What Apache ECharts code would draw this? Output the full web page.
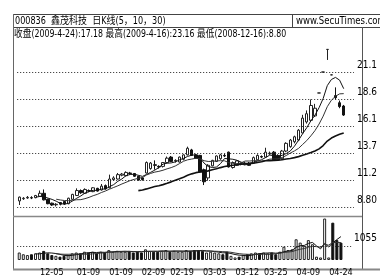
<!DOCTYPE html>
<html><head><meta charset="utf-8">
<script src="https://cdn.jsdelivr.net/npm/echarts@6/dist/echarts.min.js"></script>
<style>html,body{margin:0;padding:0;background:#fff}#c{width:380px;height:277px}</style>
</head><body><div id="c"></div>
<script>
// ---------- data ----------
const titleText = '000836  鑫茂科技  日K线(5，10，30)';
const siteText = 'www.SecuTimes.com';
const statsText = '收盘(2009-4-24):17.18 最高(2009-4-16):23.16 最低(2008-12-16):8.80';

const tickIndex = [8, 17, 25, 33, 40, 48, 56, 63, 71, 79];
const tickLabels = ['12-05', '01-09', '01-09', '02-09', '02-19', '03-03', '03-12', '03-25', '04-09', '04-24'];

const priceTicks = [8.80, 11.26, 13.72, 16.18, 18.64, 21.10];
const volumeTicks = [1055];

const opens = [9.35,9.55,9.62,9.65,9.65,9.78,10.05,9.50,9.15,9.00,9.20,9.30,9.10,9.50,9.85,10.30,10.05,10.30,10.20,10.50,
  10.35,10.75,10.55,11.30,11.35,11.70,11.65,11.90,11.85,11.60,11.45,11.90,12.30,12.65,12.50,12.50,12.85,13.35,13.00,12.90,
  13.15,13.55,14.00,13.55,13.50,12.20,11.45,12.55,12.95,13.20,13.50,13.80,12.40,12.60,12.75,12.65,12.80,12.80,13.10,13.40,
  13.35,13.65,13.80,13.50,13.20,13.90,14.30,14.75,14.90,15.55,16.55,16.70,17.10,19.19,21.10,23.16,20.84,18.95,18.30,18.00];
const closes = [9.70,9.60,9.68,9.62,9.85,10.05,9.45,9.10,8.98,9.05,9.05,9.08,9.60,9.95,10.30,10.10,10.40,10.25,10.55,10.25,
  10.70,10.45,11.35,11.45,11.75,11.80,11.95,11.85,11.60,11.25,11.30,12.85,12.80,12.60,12.45,12.85,13.25,12.95,13.05,13.35,
  13.55,14.15,13.50,13.25,12.00,11.10,12.60,13.05,13.45,13.55,13.45,12.45,12.85,13.00,12.70,12.80,12.60,13.30,13.50,13.35,
  13.80,13.70,13.05,13.10,13.90,14.60,14.90,15.20,15.80,16.90,17.30,18.05,17.80,19.19,21.10,23.16,20.84,18.76,17.95,17.18];
const lows = [8.98,9.45,9.55,9.52,9.60,9.72,9.40,9.05,8.90,8.85,8.95,9.00,9.05,9.45,9.80,10.00,10.00,10.15,10.15,10.20,
  10.30,10.40,10.50,11.20,11.30,11.60,11.60,11.75,11.55,11.20,11.20,11.85,12.20,12.20,12.30,12.40,12.80,12.90,12.85,12.85,
  13.05,13.50,13.45,13.20,11.95,10.80,11.20,12.50,12.90,13.10,13.35,12.40,12.30,12.55,12.60,12.60,12.55,12.75,13.05,13.25,
  13.30,13.55,13.00,13.00,13.10,13.80,14.20,14.60,14.80,15.50,16.40,16.60,17.00,19.19,21.10,22.20,20.84,18.60,17.80,17.10];
const highs = [9.75,9.70,9.80,9.78,9.90,10.30,10.40,9.55,9.20,9.15,9.25,9.35,9.65,10.00,10.50,10.40,10.50,10.40,10.60,10.55,
  10.90,10.85,11.75,11.60,11.90,11.90,12.05,12.00,11.90,11.65,11.50,12.95,12.90,13.05,12.60,12.90,13.40,13.45,13.15,13.40,
  13.60,14.30,14.10,13.65,13.55,12.30,12.70,13.10,13.50,13.65,13.65,13.85,12.95,13.05,12.85,12.90,12.90,13.40,13.60,13.50,
  14.20,13.85,13.90,13.60,14.00,14.70,15.00,15.30,15.90,17.20,17.60,18.60,18.20,19.19,21.10,23.16,20.84,19.70,18.50,18.10];

const ma5 = ['-','-','-','-',9.69,9.76,9.73,9.61,9.49,9.33,9.13,9.05,9.15,9.35,9.60,9.81,10.07,10.20,10.32,10.31,
  10.43,10.44,10.66,10.84,11.14,11.36,11.66,11.76,11.79,11.69,11.59,11.77,11.96,12.16,12.40,12.71,12.79,12.82,12.91,13.09,
  13.23,13.41,13.52,13.56,13.29,12.80,12.49,12.40,12.44,12.75,13.22,13.19,13.15,13.06,12.89,12.76,12.79,12.88,12.98,13.11,
  13.31,13.53,13.48,13.40,13.51,13.67,13.91,14.34,14.88,15.48,16.02,16.65,17.17,17.85,18.69,19.86,20.42,20.61,20.36,19.58];
const ma10 = ['-','-','-','-','-','-','-','-','-',9.51,9.44,9.39,9.38,9.42,9.46,9.47,9.56,9.68,9.83,9.95,
  10.12,10.26,10.43,10.58,10.73,10.90,11.05,11.21,11.32,11.42,11.48,11.72,11.86,11.98,12.05,12.15,12.28,12.39,12.54,12.75,
  12.97,13.10,13.17,13.24,13.19,13.02,12.95,12.96,13.00,13.02,13.01,12.84,12.78,12.75,12.82,12.99,12.99,13.02,13.02,13.00,
  13.04,13.16,13.18,13.19,13.31,13.49,13.72,13.91,14.14,14.50,14.85,15.28,15.76,16.36,17.08,17.94,18.53,18.89,19.11,19.13];
const ma30 = ['-','-','-','-','-','-','-','-','-','-','-','-','-','-','-','-','-','-','-','-',
  '-','-','-','-','-','-','-','-','-',10.29,10.35,10.45,10.56,10.66,10.74,10.84,10.96,11.09,11.23,11.37,
  11.52,11.69,11.82,11.93,11.99,12.02,12.09,12.19,12.28,12.39,12.49,12.55,12.60,12.65,12.69,12.72,12.74,12.79,12.85,12.92,
  13.01,13.03,13.04,13.06,13.11,13.17,13.22,13.30,13.39,13.51,13.63,13.76,13.90,14.10,14.40,14.81,15.08,15.27,15.42,15.54];

const volumes = [560,430,370,430,500,560,680,500,370,310,250,310,370,500,560,500,620,560,620,500,
  620,560,740,620,680,620,620,680,560,620,560,800,680,620,620,680,740,620,680,620,
  620,740,680,740,740,680,560,620,560,500,430,620,310,190,250,370,430,500,560,500,
  560,500,560,430,620,990,740,800,1550,1300,1055,1490,1180,250,190,3100,190,2790,1490,1300];
const volMa5 = ['-','-','-','-',458,458,508,534,522,484,422,348,322,348,398,448,510,548,572,560,
  584,572,608,608,644,644,656,644,632,620,608,644,644,656,656,680,668,656,668,668,
  656,656,668,680,704,716,680,668,632,584,534,546,484,410,360,348,310,348,422,472,
  510,524,536,510,534,620,668,716,940,1076,1089,1239,1315,1055,833,1238,978,1280,1528,1750];
const volMa10 = ['-','-','-','-','-','-','-','-','-',471,440,428,428,435,441,435,429,435,460,479,
  516,541,578,590,602,614,614,626,620,632,626,650,644,644,638,644,656,650,662,662,
  668,662,662,674,686,686,668,668,656,644,625,613,576,521,472,441,428,416,416,416,
  429,417,442,466,504,566,597,627,726,806,856,955,1017,999,956,1167,1112,1311,1305,1305];

// ---------- chart ----------
const NARROW = '"Liberation Sans Narrow","DejaVu Sans Condensed","Noto Sans CJK SC",sans-serif';
const categories = closes.map((_, i) => 'd' + i).concat(['', '']);
const candleData = opens.map((o, i) => [o, closes[i], lows[i], highs[i]]);
const hollow = { color: '#fff', borderColor: '#222', borderWidth: 1 };
const solid = { color: '#111', borderColor: '#111', borderWidth: 1 };
const volData = volumes.map((v, i) => ({ value: v, itemStyle: closes[i] >= opens[i] ? hollow : solid }));
const dotted = { type: [1, 2], color: '#222', width: 1 };

const chart = echarts.init(document.getElementById('c'), null, { renderer: 'canvas' });
chart.setOption({
  animation: false,
  backgroundColor: '#fff',
  grid: [
    { left: 17.2, right: 18, top: 38, height: 178 },
    { left: 17.2, right: 18, top: 216, height: 53 }
  ],
  xAxis: [
    { type: 'category', gridIndex: 0, data: categories, boundaryGap: true,
      axisLine: { show: false }, axisTick: { show: false }, axisLabel: { show: false }, splitLine: { show: false } },
    { type: 'category', gridIndex: 1, data: categories, boundaryGap: true,
      axisLine: { show: false }, axisTick: { show: false }, splitLine: { show: false },
      axisLabel: {
        interval: (idx) => tickIndex.indexOf(idx) >= 0,
        formatter: (val, idx) => { const k = tickIndex.indexOf(idx); return k >= 0 ? tickLabels[k] : ''; },
        fontFamily: NARROW, fontSize: 9, color: '#000', margin: 8
      } }
  ],
  yAxis: [
    { type: 'value', gridIndex: 0, position: 'right', min: 7.98, max: 24.2, scale: true,
      axisLine: { show: false }, axisTick: { show: false }, splitLine: { show: false },
      axisLabel: { customValues: priceTicks, formatter: (v) => v.toFixed(2).slice(0, 4),
        fontFamily: NARROW, fontSize: 10, color: '#000', margin: 3, verticalAlign: 'bottom', padding: [0, 0, 2, 0] } },
    { type: 'value', gridIndex: 1, position: 'right', min: 0, max: 3290,
      axisLine: { show: false }, axisTick: { show: false }, splitLine: { show: false },
      axisLabel: { customValues: volumeTicks, formatter: (v) => String(v),
        fontFamily: NARROW, fontSize: 10, color: '#000', margin: 3, verticalAlign: 'bottom', padding: [0, 0, 2, 0] } }
  ],
  series: [
    { type: 'candlestick', xAxisIndex: 0, yAxisIndex: 0, data: candleData, barWidth: 3,
      itemStyle: { color: '#fff', color0: '#111', borderColor: '#222', borderColor0: '#111', borderWidth: 1 },
      markLine: { silent: true, symbol: 'none', label: { show: false }, lineStyle: dotted,
        data: priceTicks.map(v => ({ yAxis: v })) } },
    { type: 'line', xAxisIndex: 0, yAxisIndex: 0, data: ma5, showSymbol: false, lineStyle: { color: '#111', width: 1 } },
    { type: 'line', xAxisIndex: 0, yAxisIndex: 0, data: ma10, showSymbol: false, lineStyle: { color: '#333', width: 1 } },
    { type: 'line', xAxisIndex: 0, yAxisIndex: 0, data: ma30, showSymbol: false, lineStyle: { color: '#111', width: 1.6 } },
    { type: 'bar', xAxisIndex: 1, yAxisIndex: 1, data: volData, barWidth: 3,
      markLine: { silent: true, symbol: 'none', label: { show: false }, lineStyle: dotted,
        data: volumeTicks.map(v => ({ yAxis: v })) } },
    { type: 'line', xAxisIndex: 1, yAxisIndex: 1, data: volMa5, showSymbol: false, lineStyle: { color: '#111', width: 1 } },
    { type: 'line', xAxisIndex: 1, yAxisIndex: 1, data: volMa10, showSymbol: false, lineStyle: { color: '#333', width: 1 } }
  ],
  graphic: [
    { type: 'line', shape: { x1: 13, y1: 14.5, x2: 380, y2: 14.5 }, style: { stroke: '#444', lineWidth: 1 }, silent: true },
    { type: 'line', shape: { x1: 13, y1: 27.5, x2: 380, y2: 27.5 }, style: { stroke: '#444', lineWidth: 1 }, silent: true },
    { type: 'line', shape: { x1: 292.5, y1: 14, x2: 292.5, y2: 28 }, style: { stroke: '#444', lineWidth: 1 }, silent: true },
    { type: 'line', shape: { x1: 13.5, y1: 14, x2: 13.5, y2: 270 }, style: { stroke: '#666', lineWidth: 1 }, silent: true },
    { type: 'line', shape: { x1: 362.5, y1: 27, x2: 362.5, y2: 270 }, style: { stroke: '#555', lineWidth: 1 }, silent: true },
    { type: 'line', shape: { x1: 13, y1: 216.5, x2: 362, y2: 216.5 }, style: { stroke: '#888', lineWidth: 1.5 }, silent: true },
    { type: 'line', shape: { x1: 13, y1: 269.5, x2: 380, y2: 269.5 }, style: { stroke: '#888', lineWidth: 2 }, silent: true },
    { type: 'text', x: 15, y: 16, scaleX: 0.9, style: { text: titleText, font: '10px ' + NARROW, fill: '#000' }, silent: true },
    { type: 'text', x: 296, y: 16, scaleX: 0.95, style: { text: siteText, font: '10px ' + NARROW, fill: '#000' }, silent: true },
    { type: 'text', x: 14, y: 29, scaleX: 0.87, style: { text: statsText, font: '10px ' + NARROW, fill: '#000' }, silent: true }
  ]
});
</script>
</body></html>
